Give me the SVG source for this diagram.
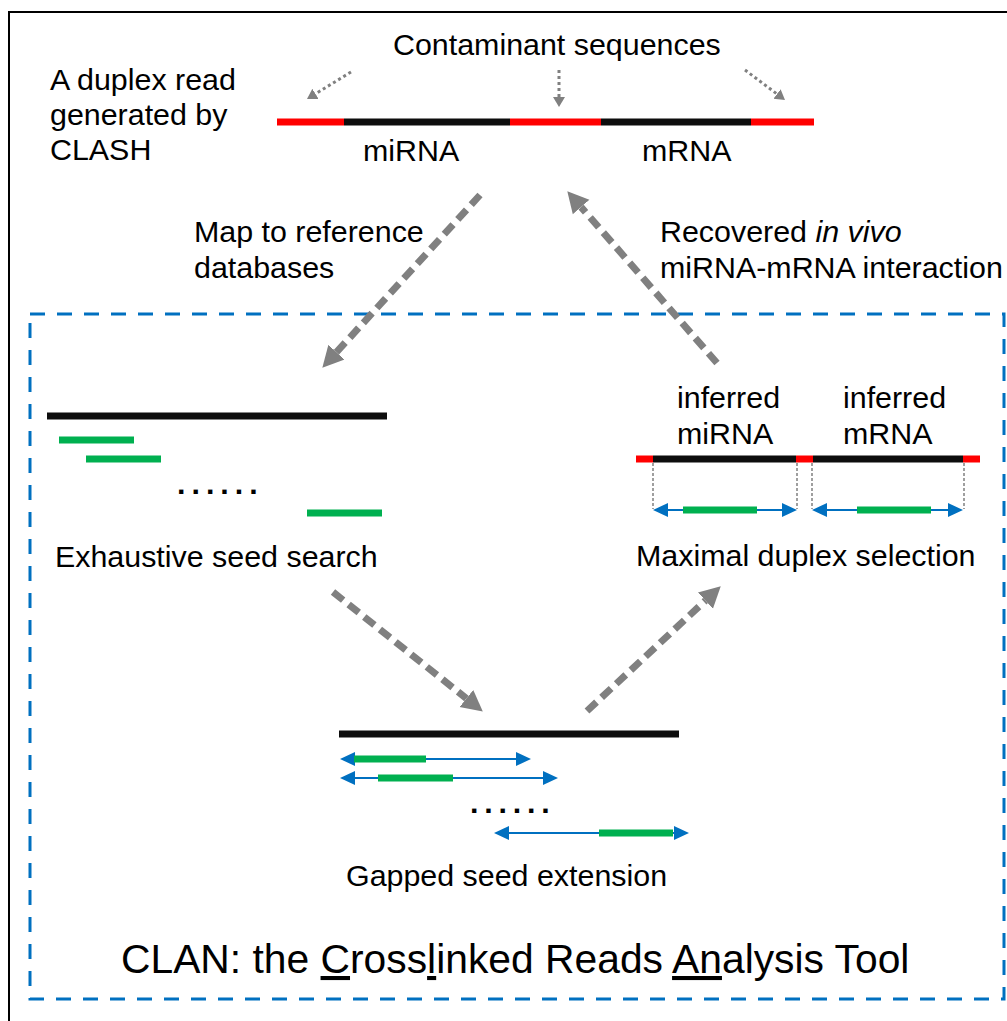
<svg xmlns="http://www.w3.org/2000/svg" width="1007" height="1021" viewBox="0 0 1007 1021">
<style>
text{font-family:"Liberation Sans",Arial,sans-serif;font-size:30.4px;fill:#000}
.title{font-size:40.8px}
.dots{font-weight:bold}
.bk{stroke:#0d0d0d;stroke-width:7}
.rd{stroke:#ff0000;stroke-width:7}
.gn{stroke:#00b050;stroke-width:7}
.bl{stroke:#0070c0;stroke-width:2;fill:none;marker-start:url(#bh);marker-end:url(#bh)}
.dot{stroke:#808080;stroke-width:1.5;stroke-dasharray:3 2;fill:none}
.big{stroke:#808080;stroke-width:7;stroke-dasharray:13 7;fill:none;marker-end:url(#gh)}
.sm{stroke:#808080;stroke-width:3;stroke-dasharray:3 3;fill:none;marker-end:url(#sh)}
</style>
<defs>
<marker id="bh" markerUnits="userSpaceOnUse" markerWidth="16" markerHeight="16" viewBox="0 -8 16 16" refX="0" refY="0" orient="auto-start-reverse"><path d="M0,-7 L15,0 L0,7 Z" fill="#0070c0"/></marker>
<marker id="gh" markerUnits="userSpaceOnUse" markerWidth="24" markerHeight="26" viewBox="0 -12 24 24" refX="0" refY="0" orient="auto"><path d="M0,-11 L21,0 L0,11 Z" fill="#808080"/></marker>
<marker id="sh" markerUnits="userSpaceOnUse" markerWidth="12" markerHeight="14" viewBox="0 -7 12 14" refX="0" refY="0" orient="auto"><path d="M0,-6 L10,0 L0,6 Z" fill="#808080"/></marker>
</defs>
<rect x="0" y="0" width="1007" height="1021" fill="#fff"/>
<rect id="frame" x="9" y="12" width="1020" height="1030" fill="none" stroke="#000" stroke-width="2"/>
<rect id="clan-box" x="30" y="314" width="974" height="685" fill="none" stroke="#0070c0" stroke-width="3" stroke-dasharray="15 12"/>

<g id="contaminant-label"><text x="393" y="55">Contaminant sequences</text></g>
<g id="duplex-label"><text x="50" y="90">A duplex read</text><text x="50" y="125">generated by</text><text x="50" y="160">CLASH</text></g>
<g id="duplex-read">
<line class="rd" x1="277" y1="122" x2="344" y2="122"/>
<line class="bk" x1="344" y1="122" x2="510" y2="122"/>
<line class="rd" x1="510" y1="122" x2="601" y2="122"/>
<line class="bk" x1="601" y1="122" x2="751" y2="122"/>
<line class="rd" x1="751" y1="122" x2="814" y2="122"/>
<text x="363" y="161">miRNA</text>
<text x="642" y="161">mRNA</text>
</g>
<g id="map-label"><text x="194" y="242">Map to reference</text><text x="194" y="278">databases</text></g>
<g id="recovered-label"><text x="660" y="242">Recovered <tspan font-style="italic">in vivo</tspan></text><text x="660" y="278">miRNA-mRNA interaction</text></g>

<g id="seed-search">
<line class="bk" x1="47" y1="416" x2="387" y2="416"/>
<line class="gn" x1="59" y1="440" x2="134" y2="440"/>
<line class="gn" x1="86" y1="459" x2="161" y2="459"/>
<text class="dots" x="177" y="494" letter-spacing="6">......</text>
<line class="gn" x1="307" y1="513" x2="382" y2="513"/>
<text x="55" y="567">Exhaustive seed search</text>
</g>

<g id="duplex-selection">
<text x="677" y="408">inferred</text><text x="677" y="444">miRNA</text>
<text x="843" y="408">inferred</text><text x="843" y="444">mRNA</text>
<line class="rd" x1="636" y1="459" x2="653" y2="459"/>
<line class="bk" x1="653" y1="459" x2="796" y2="459"/>
<line class="rd" x1="796" y1="459" x2="813" y2="459"/>
<line class="bk" x1="813" y1="459" x2="963" y2="459"/>
<line class="rd" x1="963" y1="459" x2="980" y2="459"/>
<line class="dot" x1="653" y1="463" x2="653" y2="509"/>
<line class="dot" x1="797" y1="463" x2="797" y2="509"/>
<line class="dot" x1="812" y1="463" x2="812" y2="509"/>
<line class="dot" x1="964" y1="463" x2="964" y2="509"/>
<line class="bl" x1="668" y1="510" x2="782" y2="510"/>
<line class="gn" x1="683" y1="510" x2="757" y2="510"/>
<line class="bl" x1="827" y1="510" x2="948" y2="510"/>
<line class="gn" x1="857" y1="510" x2="931" y2="510"/>
<text x="636" y="566">Maximal duplex selection</text>
</g>

<g id="seed-extension">
<line class="bk" x1="339" y1="734" x2="679" y2="734"/>
<line class="bl" x1="355" y1="759" x2="516" y2="759"/>
<line class="gn" x1="354" y1="759" x2="426" y2="759"/>
<line class="bl" x1="355" y1="778" x2="543" y2="778"/>
<line class="gn" x1="378" y1="778" x2="453" y2="778"/>
<text class="dots" x="470" y="813" letter-spacing="5.8">......</text>
<line class="bl" x1="509" y1="833" x2="674" y2="833"/>
<line class="gn" x1="599" y1="833" x2="673" y2="833"/>
<text x="346" y="886">Gapped seed extension</text>
</g>

<g id="title"><text class="title" x="121" y="973">CLAN: the <tspan text-decoration="underline">C</tspan>ross<tspan text-decoration="underline">l</tspan>inked Reads <tspan text-decoration="underline">An</tspan>alysis Tool</text></g>

<g id="connectors">
<line class="sm" x1="351" y1="72" x2="315.5" y2="93.8"/>
<line class="sm" x1="559" y1="70" x2="559" y2="97"/>
<line class="sm" x1="745" y1="70" x2="777" y2="94"/>
<line class="big" x1="480" y1="195" x2="336.5" y2="352.2"/>
<line class="big" x1="717" y1="363" x2="581.1" y2="207.1"/>
<line class="big" x1="333" y1="592" x2="466.4" y2="698.5"/>
<line class="big" x1="587" y1="711" x2="705.4" y2="600.6"/>
</g>
</svg>
